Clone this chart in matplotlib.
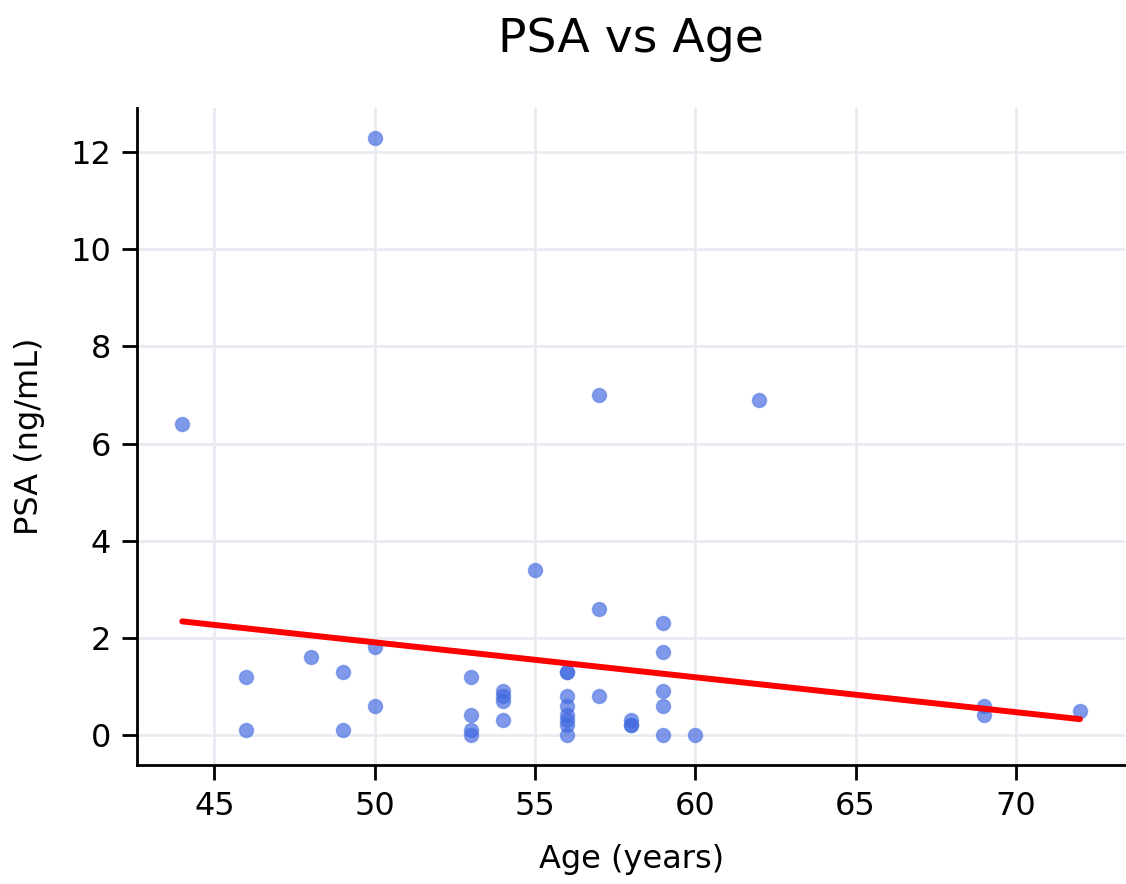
import matplotlib
matplotlib.use("Agg")
import matplotlib.pyplot as plt
import numpy as np

# ages and PSA values
age = [44, 46, 46, 48, 49, 49, 50, 50, 50,
       53, 53, 53, 53, 54, 54, 54, 54, 55,
       56, 56, 56, 56, 56, 56, 56, 56,
       57, 57, 57, 58, 58, 58,
       59, 59, 59, 59, 59, 60, 62, 69, 69, 72]
psa = [6.4, 1.2, 0.1, 1.6, 1.3, 0.1, 12.3, 1.8, 0.6,
       1.2, 0.4, 0.1, 0.0, 0.9, 0.8, 0.7, 0.3, 3.4,
       1.3, 1.3, 0.8, 0.6, 0.4, 0.3, 0.2, 0.0,
       7.0, 2.6, 0.8, 0.3, 0.2, 0.2,
       2.3, 1.7, 0.9, 0.6, 0.0, 0.0, 6.9, 0.6, 0.4, 0.5]

x = np.array(age)
y = np.array(psa)
k, m = np.polyfit(x, y, 1)

fig, ax = plt.subplots(figsize=(11.26, 8.84), dpi=100)
fig.subplots_adjust(left=0.122, right=0.999, top=0.878, bottom=0.135)

ax.scatter(x, y, s=105, facecolors=(0.255, 0.41, 0.88, 0.68),
           edgecolors=(0.255, 0.41, 0.88, 0.45), linewidths=1.0, zorder=3)
x_vals = np.array([x.min(), x.max()])
ax.plot(x_vals, k * x_vals + m, color="red", linewidth=4.3, zorder=4, solid_capstyle="round")

ax.grid(True, color="#EAEAF2", linewidth=2.0, zorder=0)
ax.set_axisbelow(True)
for s in ["top", "right"]:
    ax.spines[s].set_visible(False)
for s in ["left", "bottom"]:
    ax.spines[s].set_linewidth(2.0)
ax.tick_params(labelsize=23, length=11, width=2.0, pad=8)

ax.set_xlabel("Age (years)", fontsize=23, labelpad=16)
ax.set_ylabel("PSA (ng/mL)", fontsize=23, labelpad=18)
ax.set_title("PSA vs Age", fontsize=34, pad=40)

fig.savefig("out.png")
